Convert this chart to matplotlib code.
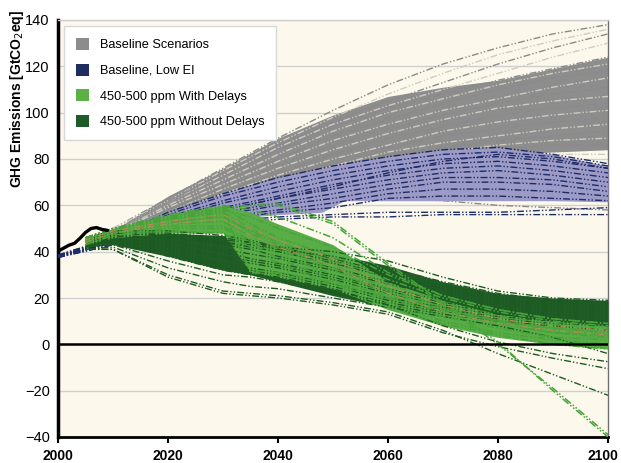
import numpy as np
import matplotlib
matplotlib.use("Agg")
import matplotlib.pyplot as plt
import matplotlib.transforms as mtransforms
from matplotlib.patches import Patch

plt.rcParams['font.family'] = ['Liberation Sans', 'DejaVu Sans']

# ---- data (GtCO2eq) ----
hist_years = [2000, 2001, 2002, 2003, 2004, 2005, 2006, 2007, 2008, 2009]
hist_vals = [40.2, 41.5, 42.8, 43.6, 45.8, 48.3, 50.0, 50.4, 49.6, 49.2]

gray_years = [2010, 2020, 2030, 2040, 2050, 2060, 2070, 2080, 2090, 2100]
gray_fill_hi = [49, 64, 76, 89, 99, 107, 111, 114, 119, 124]
gray_fill_lo = [46, 54, 62, 68, 73, 78, 80, 82, 83, 84]
gray_lines = [
    [50, 63, 76, 89, 101, 112, 121, 128, 134, 138],
    [50, 62, 75, 87, 98, 108, 117, 125, 131, 136],
    [49, 62, 74, 86, 96, 105, 113, 121, 128, 134],
    [49, 61, 73, 85, 95, 103, 110, 117, 124, 130],
    [49, 61, 72, 84, 94, 102, 108, 114, 119, 124],
    [48, 60, 71, 82, 92, 100, 106, 112, 117, 121],
    [48, 59, 70, 80, 90, 97, 104, 110, 115, 118],
    [48, 59, 69, 79, 88, 95, 101, 106, 111, 115],
    [47, 58, 68, 77, 86, 93, 99, 104, 108, 111],
    [47, 57, 67, 76, 84, 91, 97, 102, 105, 107],
    [47, 57, 66, 74, 82, 89, 94, 99, 102, 104],
    [46, 56, 65, 73, 80, 86, 92, 96, 99, 101],
    [46, 56, 64, 72, 79, 85, 90, 93, 96, 98],
    [46, 55, 63, 70, 77, 83, 87, 90, 93, 95],
    [46, 55, 62, 69, 76, 81, 85, 88, 90, 92],
    [45, 54, 61, 68, 74, 79, 83, 86, 88, 89],
    [45, 54, 61, 67, 73, 78, 81, 84, 86, 86],
    [45, 53, 60, 66, 71, 76, 79, 81, 82, 82],
    [44, 52, 58, 62, 64, 63, 62, 60, 59, 58],
    [45, 53, 59, 64, 68, 70, 70, 69, 68, 66],
]

blue_years = [2000, 2010, 2020, 2030, 2040, 2050, 2060, 2070, 2080, 2090, 2100]
blue_fill_years = [2010, 2020, 2030, 2040, 2048, 2052, 2060, 2070, 2080, 2090, 2100]
blue_fill_hi = [46, 57, 65, 72, 76, 78, 81, 84, 85, 82, 77]
blue_fill_lo = [44, 50, 54, 56, 57, 62, 62, 62, 62, 62, 61.5]
blue_lines = [
    [38.5, 46, 57, 65, 72, 77, 81, 84, 85, 82, 78],
    [38.5, 46, 56, 64, 70, 75, 79, 82, 83, 81, 77],
    [38.5, 45, 55, 62, 68, 73, 77, 80, 81, 79, 76],
    [38, 45, 54, 61, 66, 71, 75, 78, 79, 77, 74],
    [38, 45, 53, 59, 64, 69, 73, 76, 77, 75, 72],
    [38, 44, 52, 58, 63, 67, 71, 74, 75, 73, 70],
    [38, 44, 52, 57, 61, 65, 69, 72, 72, 71, 68],
    [38, 44, 51, 56, 60, 63, 67, 70, 70, 69, 66],
    [38, 44, 51, 55, 58, 61, 65, 67, 67, 66, 64],
    [37.5, 44, 50, 54, 57, 59, 63, 64, 64, 63, 62],
    [37.5, 43, 49, 53, 55, 56, 57, 57, 57, 58, 59],
    [37.5, 43, 49, 52, 54, 55, 55, 56, 56, 56, 56],
    [38, 44, 52, 58, 63, 68, 74, 79, 82, 80, 76],
]

green_years = [2005, 2010, 2020, 2030, 2035, 2040, 2050, 2060, 2070, 2080, 2090, 2100]
dark_fill_hi = [45, 48, 48, 47, 45, 43, 39, 34, 27, 22, 20, 19]
dark_fill_lo = [42, 43, 38, 32, 30, 27, 21, 16, 11, 7, 4, 2]
dark_lines = [
    [46, 49, 49, 47, 45, 42, 37, 31, 25, 21, 19, 18],
    [45, 48, 48, 46, 44, 41, 36, 30, 24, 20, 18, 17],
    [45, 48, 47, 44, 42, 40, 35, 29, 23, 19, 17, 16],
    [44, 47, 46, 43, 41, 38, 33, 27, 22, 18, 16, 15],
    [44, 47, 45, 41, 39, 37, 32, 26, 21, 17, 15, 14],
    [44, 46, 44, 40, 37, 35, 30, 24, 19, 16, 14, 13],
    [43, 46, 43, 38, 36, 34, 29, 23, 18, 15, 13, 12],
    [43, 45, 42, 37, 35, 33, 28, 22, 17, 14, 12, 11],
    [43, 45, 41, 35, 33, 31, 26, 20, 16, 13, 11, 10],
    [42, 44, 40, 34, 32, 30, 25, 19, 15, 12, 10, 9],
    [42, 44, 38, 32, 30, 28, 23, 18, 14, 11, 9, 8],
    [42, 43, 36, 30, 29, 27, 22, 17, 13, 10, 8, 6],
    [41, 42, 33, 27, 25, 24, 20, 16, 12, 8, 3, -4],
    [41, 41, 30, 23, 22, 21, 18, 14, 6, -4, -13, -22],
    [41, 41, 29, 22, 21, 20, 17, 13, 5, -1, -6, -10.5],
    [45, 48, 47, 45, 44, 42, 40, 36, 29, 23, 20, 19],
    [44, 47, 46, 44, 43, 41, 38, 33, 27, 22, 19, 18],
    [42, 44, 39, 33, 31, 29, 24, 17, 8, 1, -4, -7.5],
]

light_fill_hi = [46, 50, 56, 60, 57, 52, 43, 27, 19, 13, 10, 8]
light_fill_lo = [43, 46, 48, 48, 31, 29, 24, 15, 8, 3, 0, -2]
light_lines = [
    [46, 50, 55, 59, 60, 61, 53, 35, 18, 1, -20, -40],
    [46, 50, 55, 59, 60, 60, 52, 34, 17, 0, -19, -39],
    [45, 49, 54, 58, 31, 30, 26, 20, 14, 9, 5, 3],
    [45, 49, 54, 57, 32, 31, 27, 21, 15, 10, 6, 4],
    [46, 50, 55, 59, 52, 46, 38, 28, 20, 14, 10, 8],
    [45, 49, 54, 57, 50, 44, 36, 26, 18, 12, 9, 7],
    [45, 49, 53, 55, 49, 43, 34, 24, 16, 10, 7, 5],
    [44, 48, 52, 53, 47, 41, 32, 22, 14, 9, 5, 4],
    [44, 48, 51, 51, 45, 39, 30, 20, 12, 7, 3, 2],
    [44, 47, 50, 50, 44, 37, 28, 18, 10, 5, 2, 0],
    [43, 47, 49, 48, 42, 35, 26, 16, 9, 4, 0, -2],
    [45, 49, 54, 58, 55, 50, 42, 30, 21, 15, 11, 9],
    [44, 48, 52, 56, 48, 42, 33, 23, 15, 10, 7, 6],
    [46, 50, 56, 60, 58, 55, 46, 31, 21, 15, 11, 9],
]
tan_lines = [
    [45, 49, 53, 56, 50, 45, 37, 25, 17, 11, 8, 6],
    [44, 48, 52, 54, 47, 42, 34, 22, 14, 9, 6, 4],
]

legend_labels = ['Baseline Scenarios', 'Baseline, Low EI',
                 '450-500 ppm With Delays', '450-500 ppm Without Delays']

# ---- style ----
bg = '#fcf9ec'
gray_fill, gray_dark, gray_pale = '#8d8d8d', '#8a8a8a', '#cfcbc0'
blue_fill, navy = '#9c9ac6', '#1f2c66'
dark_fill, dark_line = '#1f5e26', '#1d5a22'
light_fill, light_line = '#58ad46', '#47a33a'
dashdot = (0, (5, 1.5, 1, 1.5, 1, 1.5))

fig = plt.figure(figsize=(6.21, 4.63), dpi=100)
ax = fig.add_axes([58 / 621, 1 - 437 / 463, 550 / 621, 417 / 463])
ax.set_facecolor(bg)

# gray baseline
ax.fill_between(gray_years, gray_fill_lo, gray_fill_hi, color=gray_fill, lw=0, zorder=2)
for i, v in enumerate(gray_lines):
    ax.plot(gray_years, v, color=gray_pale if i % 2 else gray_dark,
            lw=1.0, ls=dashdot, zorder=3)

# low EI
ax.fill_between(blue_fill_years, blue_fill_lo, blue_fill_hi, color=blue_fill, lw=0, zorder=4)
for v in blue_lines:
    ax.plot(blue_years, v, color=navy, lw=1.0, ls=dashdot, zorder=5)

# 450-500 ppm
ax.fill_between(green_years, dark_fill_lo, dark_fill_hi, color=dark_fill, lw=0, zorder=6)
ax.fill_between(green_years, light_fill_lo, light_fill_hi, color=light_fill, lw=0, zorder=7)
for v in dark_lines:
    ax.plot(green_years, v, color=dark_line, lw=1.0, ls=dashdot, zorder=8)
for v in light_lines:
    ax.plot(green_years, v, color=light_line, lw=1.1, ls=dashdot, zorder=9)
for v in tan_lines:
    ax.plot(green_years, v, color='#b98a5a', lw=0.8, ls=dashdot, zorder=9)

# historical
ax.plot(hist_years, hist_vals, color='black', lw=2.4, zorder=10, solid_capstyle='round')

ax.axhline(0, color='black', lw=1.8, zorder=11)

ax.set_xlim(2000, 2100)
ax.set_ylim(-40, 140)
ax.set_xticks(range(2000, 2101, 20))
ax.set_yticks(range(-40, 141, 20))
ax.yaxis.grid(True, color='#cfcfcf', lw=1)
ax.set_axisbelow(True)
ax.tick_params(axis='y', length=0, labelsize=10.5, pad=6)
ax.tick_params(axis='x', direction='out', length=4, width=1.5, labelsize=10, pad=5)
for lab in ax.get_xticklabels():
    lab.set_fontweight('bold')
last = ax.get_xticklabels()[-1]
last.set_transform(last.get_transform() + mtransforms.ScaledTranslation(-4 / 72, 0, fig.dpi_scale_trans))

ax.spines['left'].set_linewidth(2.5)
ax.spines['bottom'].set_linewidth(2)
ax.spines['top'].set_color('#d0d0d0')
ax.spines['top'].set_linewidth(1)
ax.spines['right'].set_color('#707070')
ax.spines['right'].set_linewidth(1)

ax.set_ylabel('GHG Emissions [GtCO$_2$eq]', fontsize=10, fontweight='bold')
ax.yaxis.set_label_coords(-0.058, 0.81)

handles = [Patch(facecolor=c, edgecolor='none')
           for c in ['#8c8c8c', '#1f2d5e', '#5cb046', '#215a2a']]
leg = ax.legend(handles, legend_labels, loc='upper left',
                bbox_to_anchor=(0.0, 1.0), borderaxespad=0.5, fontsize=9.2,
                handlelength=1.0, handleheight=1.1, handletextpad=0.9,
                labelspacing=0.95, borderpad=0.9, fancybox=False,
                framealpha=1, edgecolor='#d8d8d8')
leg.get_frame().set_linewidth(1)
leg.set_zorder(20)

fig.savefig('out.png', dpi=100)
